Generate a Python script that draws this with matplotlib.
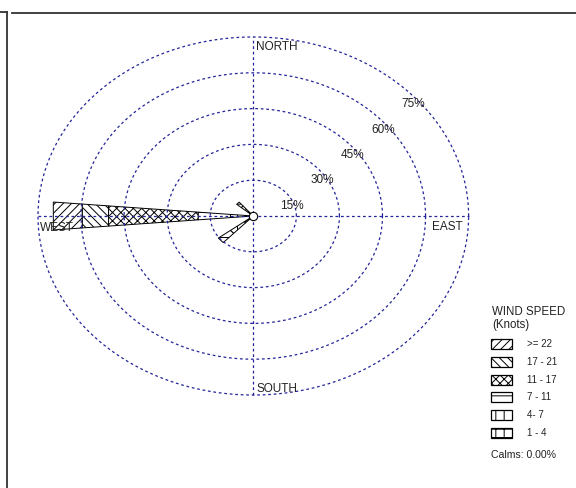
import numpy as np
import matplotlib
matplotlib.use('Agg')
import matplotlib.pyplot as plt
from matplotlib.patches import Polygon, Rectangle
from matplotlib.lines import Line2D

plt.rcParams['font.family'] = ['Liberation Sans', 'DejaVu Sans']
plt.rcParams['hatch.linewidth'] = 0.7

# speed classes (knots), inner band first
classes = ['1 - 4', '4- 7', '7 - 11', '11 - 17', '17 - 21', '>= 22']
hatches = ['+|-', '||', '--', 'xxxx', '\\\\\\\\', '////']

# petals: compass direction (deg) and frequency (%) per speed class
directions = [270, 228, 315]
west_pct = [3.0, 5.0, 11.3, 31.3, 9.2, 10.1]
sw_pct = [4.0, 6.0, 5.3, 0.0, 0.0, 0.0]
nw_pct = [2.5, 3.0, 2.1, 0.0, 0.0, 0.0]
petals = [west_pct, sw_pct, nw_pct]

rings = [15, 30, 45, 60, 75]
ring_labels = ['15%', '30%', '45%', '60%', '75%']
calms = 'Calms: 0.00%'

W, H = 576, 488
fig = plt.figure(figsize=(W / 100, H / 100), dpi=100)

# plot centre in pixels and pixels per percent (rose is stretched sideways)
cx, cy = 253.3, 216.0
sx, sy = 2.871, 2.387
ax = fig.add_axes([0, 0, 1, 1])
ax.set_xlim(-cx / sx, (W - cx) / sx)
ax.set_ylim(-(H - cy) / sy, cy / sy)
ax.axis('off')

grid_col = '#24249a'
dash = dict(color=grid_col, lw=0.9, ls=(0, (2.2, 2.2)))
t = np.linspace(0, 2 * np.pi, 400)
for r in rings:
    ax.plot(r * np.cos(t), r * np.sin(t), **dash)
rmax = rings[-1]
ax.plot([-rmax, rmax], [0, 0], **dash)
ax.plot([0, 0], [-rmax, rmax], **dash)

# ring labels
for r, lab in zip(rings, ring_labels):
    d = r * np.cos(np.pi / 4)
    ax.annotate(lab, (d, d), xytext=(8, -15), textcoords='offset pixels',
                ha='center', va='center', fontsize=8.5, color='#222222')

# compass labels
lk = dict(textcoords='offset pixels', fontsize=8.5, color='#222222')
ax.annotate('NORTH', (0, rmax), xytext=(3, -4), ha='left', va='top', **lk)
ax.annotate('SOUTH', (0, -rmax), xytext=(3, 3), ha='left', va='baseline', **lk)
ax.annotate('WEST', (-rmax, 0), xytext=(2, -6), ha='left', va='top', **lk)
ax.annotate('EAST', (rmax, 0), xytext=(-6, -5), ha='right', va='top', **lk)

# petals
hw = np.radians(4.8)
for direc, vals in zip(directions, petals):
    a = np.radians(90 - direc)
    edges = np.concatenate([[0], np.cumsum(vals)])
    for i, v in enumerate(vals):
        if v <= 0:
            continue
        r0, r1 = edges[i], edges[i + 1]
        pts = [(r0 * np.cos(a - hw), r0 * np.sin(a - hw)),
               (r1 * np.cos(a - hw), r1 * np.sin(a - hw)),
               (r1 * np.cos(a + hw), r1 * np.sin(a + hw)),
               (r0 * np.cos(a + hw), r0 * np.sin(a + hw))]
        ax.add_patch(Polygon(pts, closed=True, facecolor='white',
                             edgecolor='black', lw=0.7, hatch=hatches[i]))

ax.plot(0, 0, 'o', ms=6, mfc='white', mec='black', mew=0.8)

# legend (figure pixel positions)
def ftxt(x, y, s, **kw):
    fig.text(x / W, 1 - y / H, s, color='#222222', **kw)

ftxt(492, 312, 'WIND SPEED', fontsize=8.3, va='center')
ftxt(492, 325, '(Knots)', fontsize=8.3, va='center')
for k, (lab, h) in enumerate(zip(classes[::-1], hatches[::-1])):
    top = 339 + k * 17.8
    fig.add_artist(Rectangle((491 / W, 1 - (top + 10) / H), 21 / W, 10 / H,
                             transform=fig.transFigure, facecolor='white',
                             edgecolor='black', lw=0.9, hatch=h))
    ftxt(527, top + 5, lab, fontsize=7, va='center')
ftxt(491, 455.5, calms, fontsize=7.6, va='center')

# frame lines
fc = '#333333'
fig.add_artist(Line2D([12 / W, 1], [1 - 13 / H] * 2, color=fc, lw=1.3))
fig.add_artist(Line2D([7 / W, 7 / W], [1 - 12 / H, 0], color=fc, lw=1.3))
fig.add_artist(Line2D([0, 7 / W], [1 - 12 / H] * 2, color=fc, lw=1.3))

fig.savefig('out.png', dpi=100)
